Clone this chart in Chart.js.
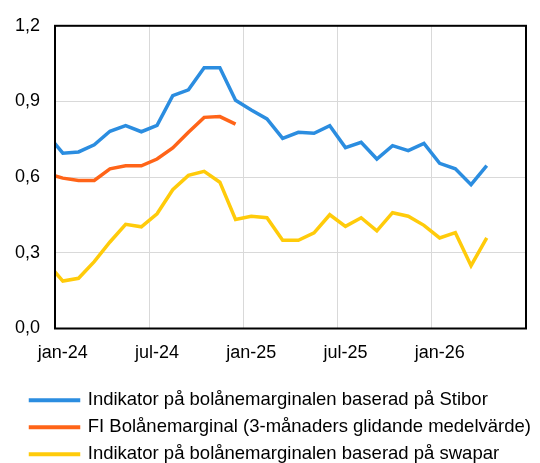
<!DOCTYPE html>
<html>
<head>
<meta charset="utf-8">
<script src="https://cdn.jsdelivr.net/npm/chart.js@4"></script>
<style>
  html, body { margin: 0; padding: 0; background: #fff; }
  #wrap { width: 540px; height: 463px; }
</style>
</head>
<body>
<div id="wrap"><canvas id="marginChart"></canvas></div>
<script>
// monthly observations, dec-23 .. apr-26 (dec-23 sits just left of the axis)
const months = [
  "dec-23", "jan-24", "feb-24", "mar-24", "apr-24", "maj-24", "jun-24",
  "jul-24", "aug-24", "sep-24", "okt-24", "nov-24", "dec-24",
  "jan-25", "feb-25", "mar-25", "apr-25", "maj-25", "jun-25",
  "jul-25", "aug-25", "sep-25", "okt-25", "nov-25", "dec-25",
  "jan-26", "feb-26", "mar-26", "apr-26"
];

const stiborValues = [
  0.77, 0.695, 0.70, 0.728, 0.782, 0.804, 0.780,
  0.805, 0.923, 0.946, 1.034, 1.034, 0.905,
  0.866, 0.831, 0.754, 0.778, 0.774, 0.804,
  0.717, 0.738, 0.672, 0.725, 0.705, 0.734,
  0.655, 0.633, 0.570, 0.646
];

const fiValues = [
  0.614, 0.596, 0.587, 0.587, 0.633, 0.645, 0.645,
  0.672, 0.716, 0.778, 0.837, 0.840, 0.810
];

const swapValues = [
  0.26, 0.188, 0.199, 0.265, 0.343, 0.413, 0.403,
  0.455, 0.550, 0.607, 0.623, 0.580, 0.432,
  0.445, 0.439, 0.350, 0.350, 0.379, 0.451,
  0.405, 0.439, 0.387, 0.459, 0.445, 0.409,
  0.359, 0.380, 0.249, 0.359
];

const xTickLabels = ["jan-24", "jul-24", "jan-25", "jul-25", "jan-26"];

// x is month index from jan-24 start, points sit in the middle of each month
function toPoints(values) {
  return values.map((v, i) => ({ x: i - 0.5, y: v }));
}

const frame = {
  id: "frame",
  afterLayout(chart) {
    // push the legend rows in a bit from the left edge
    chart.legend.left += 22;
    chart.legend.right += 22;
  },
  afterDatasetsDraw(chart) {
    const { ctx, chartArea: a } = chart;
    ctx.save();
    ctx.strokeStyle = "#000";
    ctx.lineWidth = 2;
    ctx.strokeRect(a.left, a.top, a.right - a.left, a.bottom - a.top);
    ctx.restore();
  }
};

const font = { family: "'Liberation Sans', Arial, sans-serif", size: 18 };

new Chart(document.getElementById("marginChart"), {
  type: "line",
  data: {
    datasets: [
      {
        label: "Indikator på bolånemarginalen baserad på Stibor",
        data: toPoints(stiborValues),
        borderColor: "#2b8de0",
        backgroundColor: "#2b8de0"
      },
      {
        label: "FI Bolånemarginal (3-månaders glidande medelvärde)",
        data: toPoints(fiValues),
        borderColor: "#ff6418",
        backgroundColor: "#ff6418"
      },
      {
        label: "Indikator på bolånemarginalen baserad på swapar",
        data: toPoints(swapValues),
        borderColor: "#ffcb0a",
        backgroundColor: "#ffcb0a"
      }
    ]
  },
  options: {
    responsive: true,
    maintainAspectRatio: false,
    animation: false,
    elements: {
      point: { radius: 0 },
      line: { borderWidth: 3.5, tension: 0 }
    },
    layout: {
      padding: { top: 12, left: 0, right: 13, bottom: -10.5 }
    },
    plugins: {
      tooltip: { enabled: false },
      legend: {
        position: "bottom",
        align: "start",
        labels: {
          color: "#000",
          font: { family: font.family, size: 18.5 },
          boxWidth: 48,
          boxHeight: 0.5,
          padding: 8.5
        }
      }
    },
    scales: {
      x: {
        type: "linear",
        min: 0,
        max: 30,
        afterBuildTicks: scale => {
          scale.ticks = [0, 6, 12, 18, 24, 30].map(v => ({ value: v }));
        },
        afterFit: scale => { scale.height = 54; },
        ticks: {
          color: "#000",
          font: font,
          padding: 14,
          labelOffset: 7.86,
          maxRotation: 0,
          callback: value => xTickLabels[value / 6] || ""
        },
        grid: { color: "#d9d9d9", lineWidth: 1, drawTicks: false },
        border: { display: false }
      },
      y: {
        min: 0,
        max: 1.2,
        afterFit: scale => { scale.width = 55; },
        ticks: {
          color: "#000",
          font: font,
          padding: 15,
          stepSize: 0.3,
          callback: value => value.toFixed(1).replace(".", ",")
        },
        grid: { color: "#d9d9d9", lineWidth: 1, drawTicks: false },
        border: { display: false }
      }
    }
  },
  plugins: [frame]
});
</script>
</body>
</html>
